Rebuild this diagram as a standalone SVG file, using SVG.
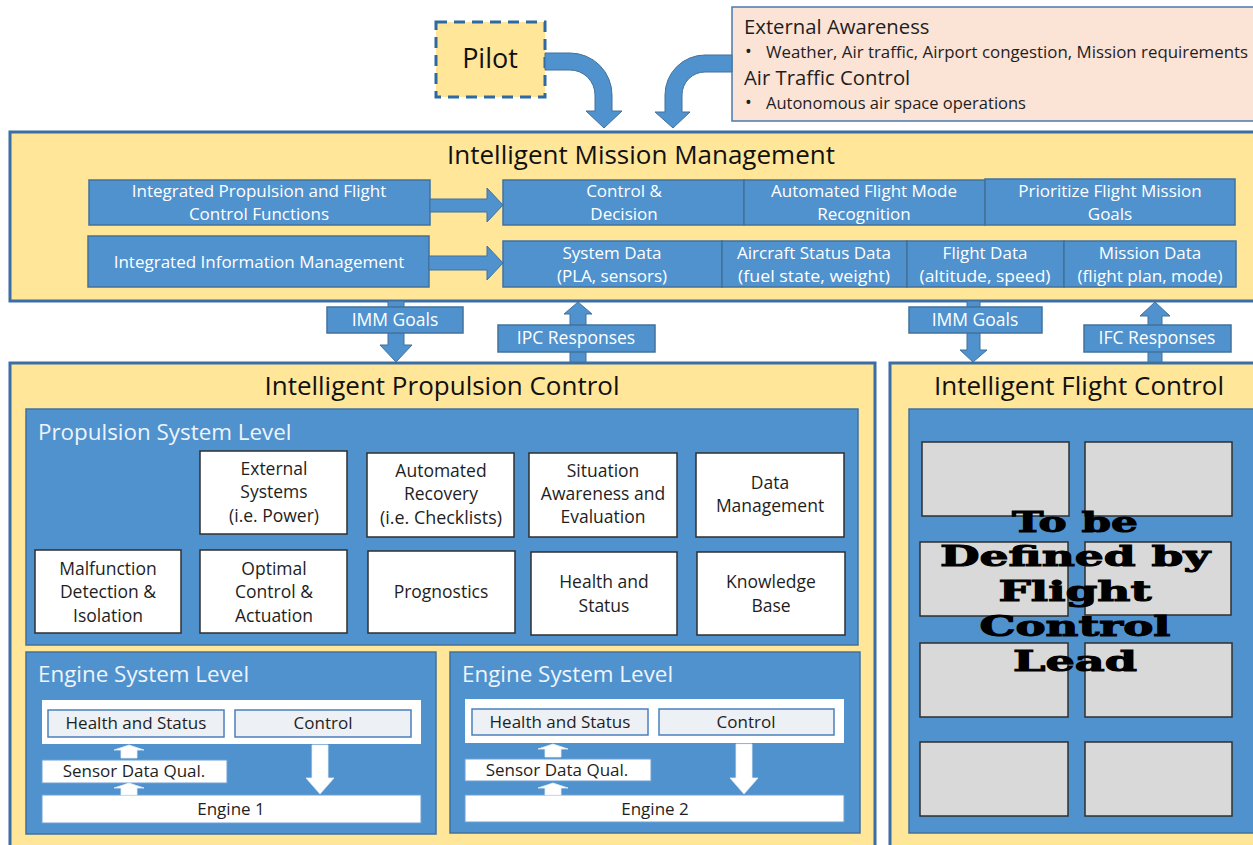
<svg xmlns="http://www.w3.org/2000/svg" width="1253" height="845" viewBox="0 0 1253 845">
  <defs>
    <style>
      .frame { fill: #ffe699; stroke: #3a6ea5; stroke-width: 3; }
      .blue { fill: #4f92ce; stroke: #41719c; stroke-width: 1.5; }
      .panel { fill: #4f92ce; stroke: #41719c; stroke-width: 1.5; }
      .wbox { fill: #ffffff; stroke: #2f2f2f; stroke-width: 1.5; }
      .gbox { fill: #d9d9d9; stroke: #2f2f2f; stroke-width: 1.5; }
      .lbox { fill: #edf0f4; stroke: #4a80bd; stroke-width: 1.5; }
      .plain { fill: #ffffff; stroke: #6f9fd3; stroke-width: 1; }
      .arrow { fill: #4f92ce; stroke: #41719c; stroke-width: 1; }
      .warrow { fill: #ffffff; stroke: #e6eef8; stroke-width: 0.8; }
      text { font-family: "Open Sans", Lato, sans-serif; }
      .title { font-size: 26px; fill: #111; text-anchor: middle; }
      .wt { font-size: 17px; fill: #ffffff; text-anchor: middle; }
      .lt { font-size: 17.5px; fill: #ffffff; text-anchor: middle; }
      .bt { font-size: 17.5px; fill: #1e1e1e; text-anchor: middle; }
      .st { font-size: 17px; fill: #1e1e1e; text-anchor: middle; }
      .lvl { font-size: 22.4px; fill: #eef4fb; }
      .ext { font-size: 20.3px; fill: #1e1e1e; }
      .bul { font-size: 16.5px; fill: #1e1e1e; }
      .dot { font-size: 18px; fill: #1e1e1e; }
      .tbd { font-family: "DejaVu Serif", "Liberation Serif", serif; font-weight: bold; font-size: 27px; fill: #000; stroke: #000; stroke-width: 1; text-anchor: middle; }
    </style>
  </defs>

  <rect x="0" y="0" width="1253" height="845" fill="#ffffff"/>

  <!-- Pilot -->
  <g id="pilot">
    <rect x="436" y="22" width="109" height="75" fill="#ffe699" stroke="#2e6aa0" stroke-width="3" stroke-dasharray="11 7"/>
    <text x="490" y="68" style="font-size:27px;fill:#111;text-anchor:middle">Pilot</text>
  </g>

  <!-- External awareness / ATC -->
  <g id="external">
    <rect x="732" y="7" width="530" height="114" fill="#fbe3d6" stroke="#4a7ab0" stroke-width="1.5"/>
    <text class="ext" x="744" y="34">External Awareness</text>
    <text class="dot" x="745" y="58">•</text>
    <text class="bul" x="766" y="58" textLength="482" lengthAdjust="spacingAndGlyphs">Weather, Air traffic, Airport congestion, Mission requirements</text>
    <text class="ext" x="744" y="85">Air Traffic Control</text>
    <text class="dot" x="745" y="109">•</text>
    <text class="bul" x="766" y="109">Autonomous  air space operations</text>
  </g>

  <!-- Intelligent Mission Management -->
  <g id="imm">
    <rect class="frame" x="10" y="132" width="1255" height="169"/>
    <text class="title" x="641" y="164">Intelligent Mission Management</text>
    <g id="ipfc">
      <rect class="blue" x="89" y="180" width="341" height="45"/>
      <text class="wt" x="259" y="197">Integrated Propulsion and Flight</text>
      <text class="wt" x="259" y="220">Control Functions</text>
    </g>
    <g id="iim">
      <rect class="blue" x="88" y="236" width="341" height="51"/>
      <text class="wt" x="259" y="268">Integrated Information Management</text>
    </g>
    <g id="ctrl-decision">
      <rect class="blue" x="503" y="180" width="241" height="45"/>
      <text class="wt" x="624" y="197">Control &amp;</text>
      <text class="wt" x="624" y="220">Decision</text>
    </g>
    <g id="flight-mode">
      <rect class="blue" x="744" y="180" width="241" height="45"/>
      <text class="wt" x="864" y="197">Automated  Flight Mode</text>
      <text class="wt" x="864" y="220">Recognition</text>
    </g>
    <g id="prioritize">
      <rect class="blue" x="985" y="179" width="250" height="46"/>
      <text class="wt" x="1110" y="197">Prioritize  Flight Mission</text>
      <text class="wt" x="1110" y="220">Goals</text>
    </g>
    <g id="system-data">
      <rect class="blue" x="503" y="241" width="219" height="46"/>
      <text class="wt" x="612" y="259">System Data</text>
      <text class="wt" x="612" y="282">(PLA, sensors)</text>
    </g>
    <g id="aircraft-data">
      <rect class="blue" x="722" y="241" width="185" height="46"/>
      <text class="wt" x="814" y="259" textLength="154" lengthAdjust="spacingAndGlyphs">Aircraft Status Data</text>
      <text class="wt" x="814" y="282" textLength="152" lengthAdjust="spacingAndGlyphs">(fuel state, weight)</text>
    </g>
    <g id="flight-data">
      <rect class="blue" x="907" y="241" width="157" height="46"/>
      <text class="wt" x="985" y="259">Flight Data</text>
      <text class="wt" x="985" y="282" textLength="131" lengthAdjust="spacingAndGlyphs">(altitude, speed)</text>
    </g>
    <g id="mission-data">
      <rect class="blue" x="1064" y="241" width="172" height="46"/>
      <text class="wt" x="1150" y="259">Mission Data</text>
      <text class="wt" x="1150" y="282" textLength="145" lengthAdjust="spacingAndGlyphs">(flight plan, mode)</text>
    </g>
  </g>

  <!-- Intelligent Propulsion Control -->
  <g id="ipc">
    <rect class="frame" x="10" y="363" width="865" height="490"/>
    <text class="title" x="442" y="395">Intelligent Propulsion Control</text>

    <g id="propulsion-level">
      <rect class="panel" x="26" y="409" width="832" height="236"/>
      <text class="lvl" x="38" y="440">Propulsion System Level</text>
      <g id="external-systems">
        <rect class="wbox" x="200" y="451" width="147" height="83"/>
        <text class="bt" x="274" y="475">External</text>
        <text class="bt" x="274" y="498">Systems</text>
        <text class="bt" x="274" y="522">(i.e. Power)</text>
      </g>
      <g id="auto-recovery">
        <rect class="wbox" x="367" y="453" width="147" height="84"/>
        <text class="bt" x="441" y="477">Automated</text>
        <text class="bt" x="441" y="500">Recovery</text>
        <text class="bt" x="441" y="524" textLength="122" lengthAdjust="spacingAndGlyphs">(i.e. Checklists)</text>
      </g>
      <g id="situation">
        <rect class="wbox" x="529" y="453" width="148" height="84"/>
        <text class="bt" x="603" y="477">Situation</text>
        <text class="bt" x="603" y="500">Awareness and</text>
        <text class="bt" x="603" y="523">Evaluation</text>
      </g>
      <g id="data-mgmt">
        <rect class="wbox" x="696" y="453" width="148" height="84"/>
        <text class="bt" x="770" y="489">Data</text>
        <text class="bt" x="770" y="512">Management</text>
      </g>
      <g id="malfunction">
        <rect class="wbox" x="35" y="550" width="146" height="83"/>
        <text class="bt" x="108" y="575">Malfunction</text>
        <text class="bt" x="108" y="598">Detection &amp;</text>
        <text class="bt" x="108" y="622">Isolation</text>
      </g>
      <g id="optimal">
        <rect class="wbox" x="200" y="550" width="147" height="83"/>
        <text class="bt" x="274" y="575">Optimal</text>
        <text class="bt" x="274" y="598">Control &amp;</text>
        <text class="bt" x="274" y="622">Actuation</text>
      </g>
      <g id="prognostics">
        <rect class="wbox" x="368" y="551" width="147" height="82"/>
        <text class="bt" x="441" y="598">Prognostics</text>
      </g>
      <g id="health">
        <rect class="wbox" x="531" y="552" width="146" height="83"/>
        <text class="bt" x="604" y="588">Health and</text>
        <text class="bt" x="604" y="612">Status</text>
      </g>
      <g id="knowledge">
        <rect class="wbox" x="697" y="552" width="148" height="83"/>
        <text class="bt" x="771" y="588">Knowledge</text>
        <text class="bt" x="771" y="612">Base</text>
      </g>
    </g>

    <g id="engine-1">
      <rect class="panel" x="26" y="652" width="410" height="182"/>
      <text class="lvl" x="38" y="682">Engine System Level</text>
      <rect x="42" y="700" width="379" height="44" fill="#ffffff"/>
      <rect class="lbox" x="48" y="710" width="176" height="27"/>
      <text class="st" x="136" y="729">Health and Status</text>
      <rect class="lbox" x="235" y="710" width="176" height="27"/>
      <text class="st" x="323" y="729">Control</text>
      <rect class="plain" x="42" y="760" width="185" height="23"/>
      <text class="st" x="134" y="777">Sensor  Data Qual.</text>
      <rect class="plain" x="42" y="795" width="379" height="28"/>
      <text class="st" x="231" y="815">Engine 1</text>
      <path class="warrow" d="M121,758 L121,750 L114,750 L129,745 L144,750 L137,750 L137,758 Z"/>
      <path class="warrow" d="M121,795 L121,788 L114,788 L129,783 L144,788 L137,788 L137,795 Z"/>
      <path class="warrow" d="M312,745 L328,745 L328,778 L334,778 L320,794 L306,778 L312,778 Z"/>
    </g>

    <g id="engine-2">
      <rect class="panel" x="450" y="652" width="410" height="181"/>
      <text class="lvl" x="462" y="682">Engine System Level</text>
      <rect x="465" y="699" width="379" height="44" fill="#ffffff"/>
      <rect class="lbox" x="472" y="709" width="176" height="26"/>
      <text class="st" x="560" y="728">Health and Status</text>
      <rect class="lbox" x="659" y="709" width="175" height="26"/>
      <text class="st" x="746" y="728">Control</text>
      <rect class="plain" x="465" y="759" width="186" height="22"/>
      <text class="st" x="557" y="776">Sensor  Data Qual.</text>
      <rect class="plain" x="465" y="795" width="379" height="27"/>
      <text class="st" x="655" y="815">Engine 2</text>
      <path class="warrow" d="M545,757 L545,749 L538,749 L553,744 L568,749 L561,749 L561,757 Z"/>
      <path class="warrow" d="M545,795 L545,788 L538,788 L553,783 L568,788 L561,788 L561,795 Z"/>
      <path class="warrow" d="M736,744 L752,744 L752,778 L758,778 L744,794 L730,778 L736,778 Z"/>
    </g>
  </g>

  <!-- Intelligent Flight Control -->
  <g id="ifc">
    <rect class="frame" x="890" y="363" width="375" height="490"/>
    <text class="title" x="1079" y="395">Intelligent Flight Control</text>
    <rect class="panel" x="909" y="409" width="350" height="424"/>
    <rect class="gbox" x="922" y="442" width="147" height="74"/>
    <rect class="gbox" x="1085" y="442" width="147" height="74"/>
    <rect class="gbox" x="920" y="542" width="148" height="74"/>
    <rect class="gbox" x="1085" y="542" width="146" height="73"/>
    <rect class="gbox" x="920" y="643" width="148" height="74"/>
    <rect class="gbox" x="1085" y="643" width="147" height="74"/>
    <rect class="gbox" x="920" y="742" width="148" height="74"/>
    <rect class="gbox" x="1085" y="742" width="147" height="74"/>
    <text class="tbd" x="1075" y="532" textLength="126" lengthAdjust="spacingAndGlyphs">To be</text>
    <text class="tbd" x="1075" y="566" textLength="270" lengthAdjust="spacingAndGlyphs">Defined by</text>
    <text class="tbd" x="1075" y="601" textLength="153" lengthAdjust="spacingAndGlyphs">Flight</text>
    <text class="tbd" x="1075" y="636" textLength="191" lengthAdjust="spacingAndGlyphs">Control</text>
    <text class="tbd" x="1075" y="671" textLength="124" lengthAdjust="spacingAndGlyphs">Lead</text>
  </g>

  <!-- Connectors -->
  <g id="connectors">
    <!-- Pilot and external inputs into mission management -->
    <path class="arrow" d="M545,53 L570,53 A42,42 0 0 1 612,95 L612,111 L622,111 L604,128 L586,111 L595,111 L595,95 A25,25 0 0 0 570,70 L545,70 Z"/>
    <path class="arrow" d="M732,55 L705,55 A40,40 0 0 0 665,95 L665,112 L655,112 L673,128 L690,112 L682,112 L682,95 A23,23 0 0 1 705,72 L732,72 Z"/>
    <!-- functions to decision / data rows -->
    <path class="arrow" d="M430,199 L487,199 L487,188 L503,205 L487,222 L487,212 L430,212 Z"/>
    <path class="arrow" d="M429,256 L487,256 L487,246 L503,263 L487,280 L487,270 L429,270 Z"/>
    <!-- IMM to IPC -->
    <path class="arrow" d="M388,301 L404,301 L404,345 L412,345 L396,362 L380,345 L388,345 Z"/>
    <rect class="blue" x="327" y="307" width="136" height="26"/>
    <text class="lt" x="395" y="326">IMM Goals</text>
    <!-- IPC to IMM -->
    <path class="arrow" d="M570,362 L570,314 L564,314 L578,302 L592,314 L586,314 L586,362 Z"/>
    <rect class="blue" x="498" y="325" width="157" height="27"/>
    <text class="lt" x="576" y="344">IPC Responses</text>
    <!-- IMM to IFC -->
    <path class="arrow" d="M967,301 L980,301 L980,350 L987,350 L973,362 L960,350 L967,350 Z"/>
    <rect class="blue" x="909" y="307" width="133" height="26"/>
    <text class="lt" x="975" y="326">IMM Goals</text>
    <!-- IFC to IMM -->
    <path class="arrow" d="M1148,362 L1148,316 L1140,316 L1155,302 L1170,316 L1162,316 L1162,362 Z"/>
    <rect class="blue" x="1084" y="325" width="147" height="27"/>
    <text class="lt" x="1157" y="344">IFC Responses</text>
  </g>
</svg>
